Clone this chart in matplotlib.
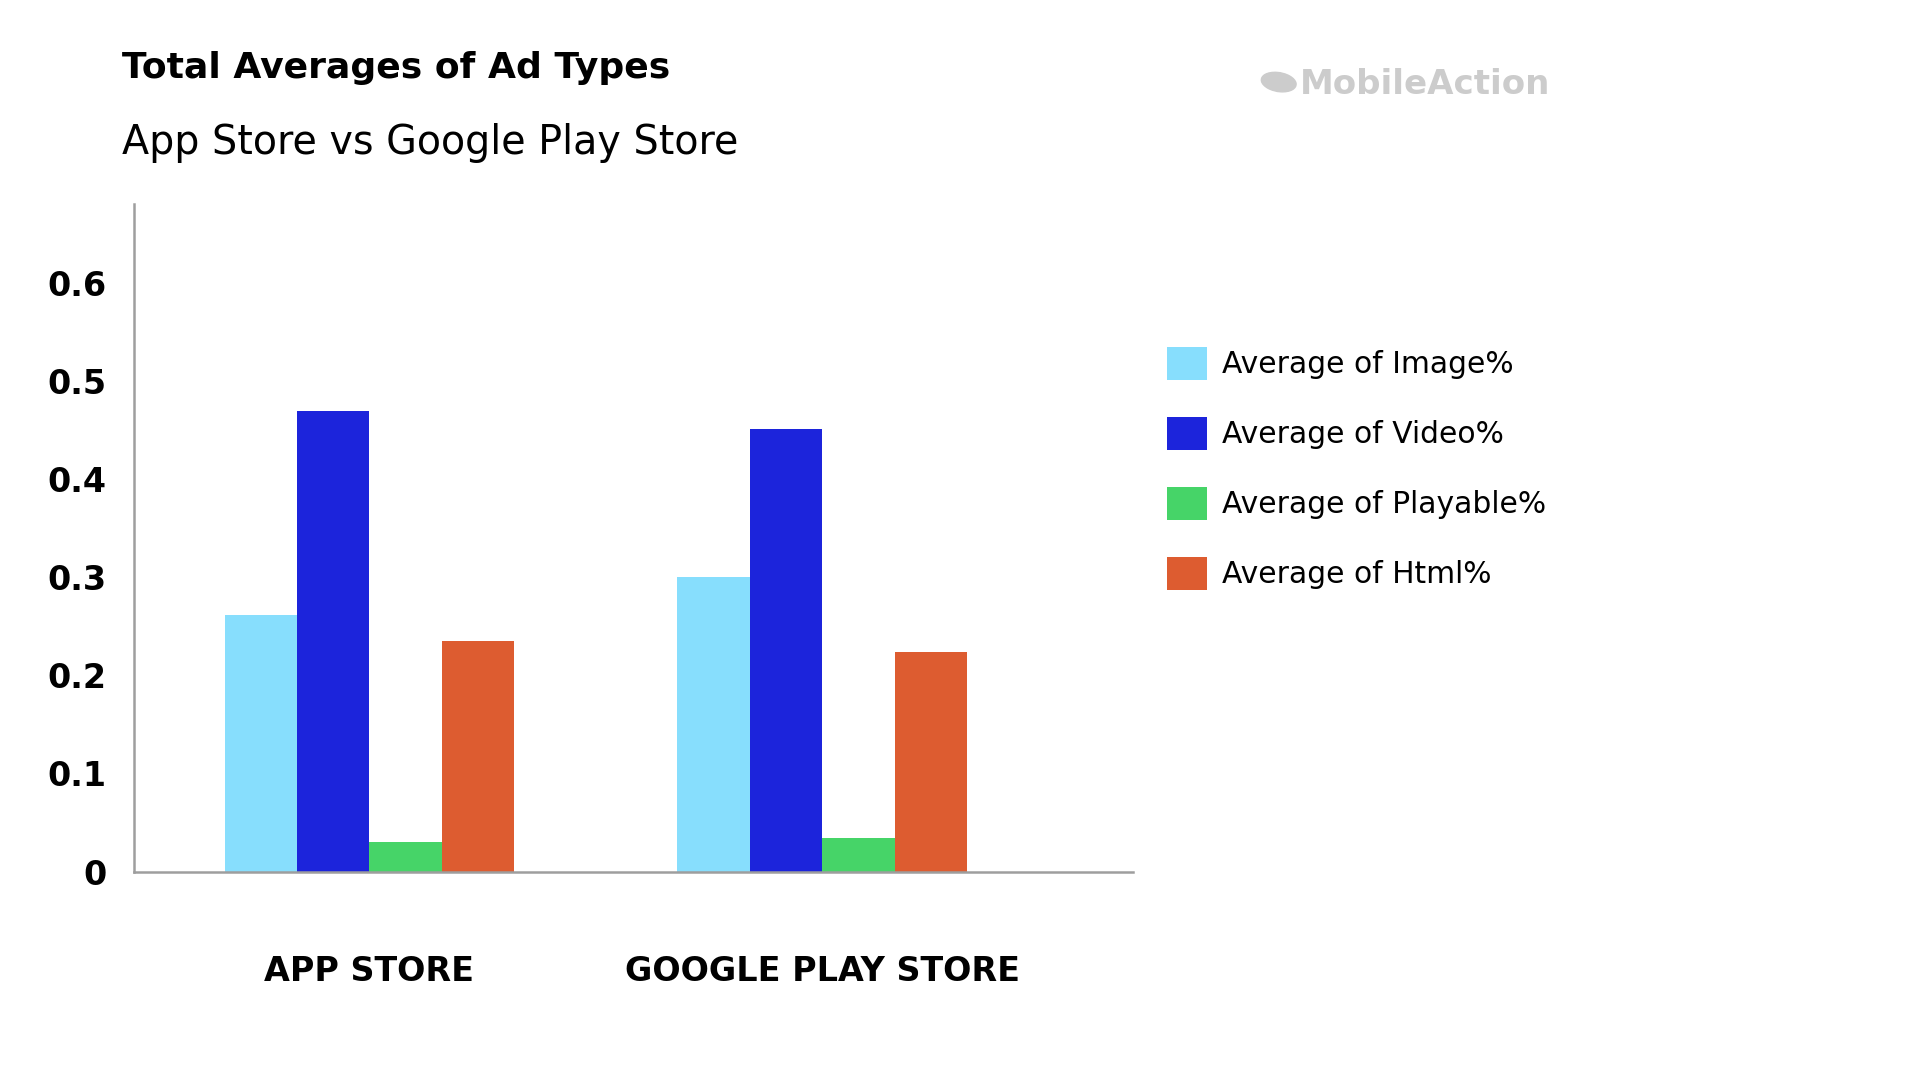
import matplotlib
matplotlib.use("Agg")
import matplotlib.pyplot as plt
from matplotlib.patches import Ellipse
import numpy as np

categories = ["APP STORE", "GOOGLE PLAY STORE"]
series_names = ["Average of Image%", "Average of Video%", "Average of Playable%", "Average of Html%"]
image_vals = [0.262, 0.300]
video_vals = [0.469, 0.451]
playable_vals = [0.030, 0.034]
html_vals = [0.235, 0.224]
yticks = [0, 0.1, 0.2, 0.3, 0.4, 0.5, 0.6]
ytick_labels = ["0", "0.1", "0.2", "0.3", "0.4", "0.5", "0.6"]

colors = ["#87DEFD", "#1C24DB", "#46D468", "#DD5C30"]

plt.rcParams['font.family'] = ['DejaVu Sans']

fig = plt.figure(figsize=(19.2, 10.8), dpi=100)
fig.patch.set_facecolor("white")
ax = fig.add_axes([0.070, 0.193, 0.520, 0.6177])

x = np.arange(len(categories))
w = 0.16
all_vals = [image_vals, video_vals, playable_vals, html_vals]
offsets = [-1.5, -0.5, 0.5, 1.5]
handles = []
for vals, off, col, name in zip(all_vals, offsets, colors, series_names):
    b = ax.bar(x + off * w, vals, width=w, color=col, label=name, linewidth=0)
    handles.append(b)

ax.set_xlim(-0.519, 1.686)
ax.set_ylim(0, 0.68)
for s in ["top", "right"]:
    ax.spines[s].set_visible(False)
for s in ["left", "bottom"]:
    ax.spines[s].set_color("#9e9e9e")
    ax.spines[s].set_linewidth(1.8)

ax.set_yticks(yticks)
ax.set_yticklabels(ytick_labels, fontsize=24, fontweight="bold")
ax.set_xticks(x)
ax.set_xticklabels(categories, fontsize=24, fontweight="bold")
ax.tick_params(axis="y", length=0, pad=20)
ax.tick_params(axis="x", length=0, pad=60)

fig.text(0.0637, 0.937, "Total Averages of Ad Types", fontsize=26, fontweight="bold",
         ha="left", va="center", color="black")
fig.text(0.0637, 0.868, "App Store vs Google Play Store", fontsize=28.5,
         ha="left", va="center", color="black")

# logo
fig.text(0.677, 0.922, "MobileAction", fontsize=24.5, fontweight="bold",
         ha="left", va="center", color="#cccccc")
fig.patches.append(Ellipse((0.666, 0.924), 0.016, 0.02, angle=45,
                           transform=fig.transFigure, color="#cccccc"))

leg = fig.legend(handles=handles, labels=series_names, loc="upper left",
                 bbox_to_anchor=(0.608, 0.679), frameon=False, fontsize=21.4,
                 handlelength=1.33, handleheight=1.33, handletextpad=0.5,
                 labelspacing=1.25, borderpad=0, borderaxespad=0)

fig.savefig("out.png", dpi=100, facecolor="white")
